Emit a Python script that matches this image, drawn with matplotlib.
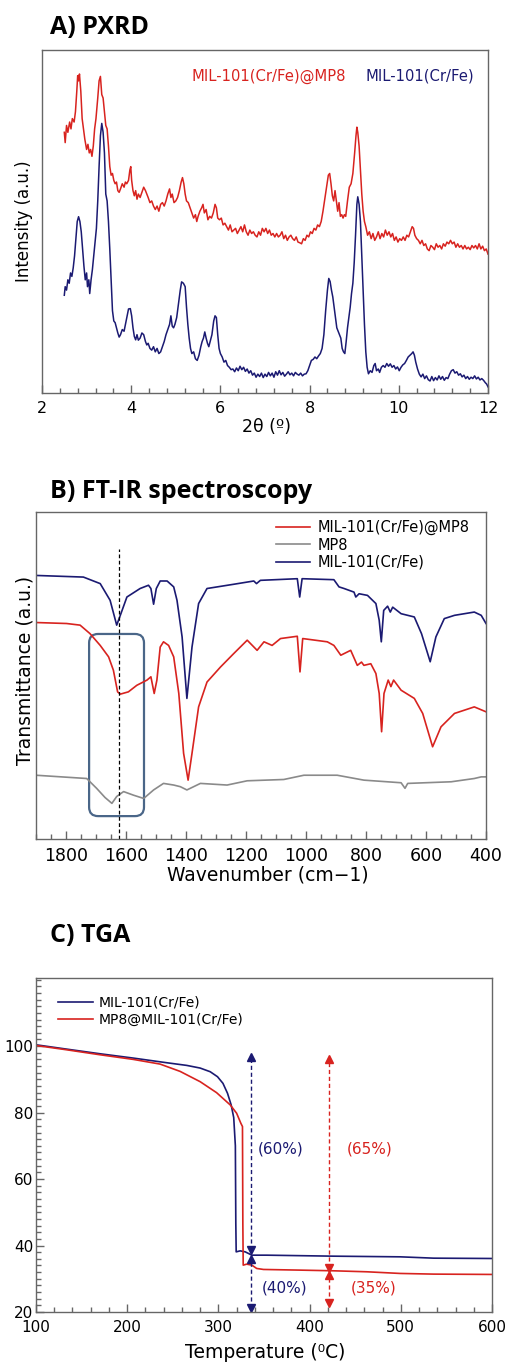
import numpy as np
import matplotlib
matplotlib.use("Agg")
import matplotlib.pyplot as plt
from matplotlib.patches import FancyBboxPatch
from matplotlib.ticker import MultipleLocator

plt.rcParams['font.family'] = ['DejaVu Sans']

RED = '#d8231f'
NAVY = '#1b1a72'
GRAY = '#8a8a8a'
SPINE = '#666666'

# ---------------- A) PXRD (2theta, intensity a.u.) ----------------
pxrd_composite = [
    (2.50, 76), (2.52, 73), (2.55, 78), (2.58, 76), (2.62, 79), (2.65, 77), (2.68, 80), (2.72, 79),
    (2.75, 82), (2.78, 88), (2.80, 92.5), (2.82, 91), (2.84, 93), (2.87, 88), (2.90, 80), (2.93, 77),
    (2.96, 74), (3.00, 71), (3.03, 72.5), (3.06, 70), (3.09, 71), (3.12, 69), (3.15, 72), (3.18, 77),
    (3.21, 80), (3.25, 86), (3.28, 91), (3.31, 92.3), (3.34, 87), (3.37, 86), (3.40, 82), (3.43, 78),
    (3.46, 77), (3.49, 72), (3.52, 66), (3.55, 63.5), (3.58, 64), (3.61, 62), (3.64, 61), (3.67, 61.5),
    (3.70, 59), (3.73, 58.5), (3.76, 59.5), (3.80, 61), (3.84, 60), (3.87, 61.5), (3.90, 61), (3.94, 62),
    (3.97, 65), (3.99, 66), (4.01, 62), (4.04, 59), (4.07, 57.5), (4.10, 59), (4.13, 56.5), (4.16, 58),
    (4.20, 57), (4.24, 58.5), (4.28, 60), (4.32, 59), (4.35, 58), (4.38, 57), (4.42, 55.5), (4.46, 56),
    (4.50, 54.5), (4.54, 53.5), (4.58, 54.5), (4.62, 53), (4.66, 55), (4.70, 55.5), (4.74, 54.5),
    (4.78, 56), (4.82, 58), (4.86, 59.5), (4.89, 57), (4.92, 58), (4.96, 55.5), (5.00, 56), (5.04, 57),
    (5.08, 59), (5.12, 61.5), (5.15, 62.8), (5.18, 61), (5.21, 58), (5.24, 56), (5.28, 55.5), (5.32, 54),
    (5.36, 52.5), (5.40, 51), (5.44, 52), (5.47, 50), (5.50, 51.5), (5.54, 53), (5.58, 54), (5.61, 55),
    (5.64, 52.5), (5.68, 53.5), (5.72, 50.5), (5.76, 51.5), (5.80, 51), (5.84, 52.5), (5.88, 55),
    (5.91, 54), (5.94, 51), (5.98, 50.5), (6.02, 51), (6.06, 49), (6.10, 49.5), (6.14, 48.5), (6.18, 47.5),
    (6.22, 49), (6.26, 47), (6.30, 47.5), (6.34, 48), (6.38, 46.5), (6.42, 47.5), (6.46, 48.5), (6.50, 47),
    (6.54, 49), (6.58, 47), (6.62, 46), (6.66, 47.5), (6.70, 46.5), (6.74, 47), (6.78, 46), (6.82, 45.5),
    (6.86, 47), (6.90, 46), (6.94, 48), (6.98, 47), (7.02, 48), (7.06, 46.5), (7.10, 47.5), (7.14, 46),
    (7.18, 46.5), (7.22, 45.5), (7.26, 46.5), (7.30, 45.5), (7.34, 46), (7.38, 47), (7.42, 45), (7.46, 46),
    (7.50, 44.5), (7.54, 45.5), (7.58, 46), (7.62, 45), (7.66, 44.5), (7.70, 45.5), (7.74, 44), (7.78, 43.8),
    (7.82, 43.5), (7.86, 45), (7.90, 44.5), (7.94, 46), (7.98, 45.5), (8.02, 47), (8.06, 46.5), (8.10, 48),
    (8.14, 47.5), (8.18, 49), (8.22, 48.5), (8.26, 50), (8.30, 53), (8.34, 56.5), (8.38, 60), (8.42, 63.5),
    (8.45, 64), (8.48, 61), (8.51, 57.5), (8.54, 56), (8.57, 59), (8.60, 56), (8.63, 53), (8.66, 55.5),
    (8.69, 51.5), (8.72, 52), (8.75, 51), (8.78, 52), (8.81, 51.5), (8.85, 56), (8.89, 60), (8.93, 61),
    (8.97, 64), (9.01, 70), (9.04, 75), (9.06, 77.5), (9.08, 76), (9.11, 72), (9.14, 65), (9.17, 58),
    (9.20, 53), (9.23, 50), (9.26, 48.5), (9.30, 46), (9.34, 47), (9.38, 45), (9.42, 46.5), (9.46, 44.5),
    (9.50, 45.5), (9.54, 47), (9.58, 45), (9.62, 46.5), (9.66, 45.5), (9.70, 47.5), (9.74, 46), (9.78, 47),
    (9.82, 45.5), (9.86, 46.5), (9.90, 44.5), (9.94, 45.5), (9.98, 44), (10.02, 45), (10.06, 44.5),
    (10.10, 45.5), (10.14, 44.5), (10.18, 46), (10.22, 45.5), (10.26, 47), (10.30, 48.5), (10.33, 48),
    (10.36, 46), (10.40, 45), (10.44, 44.5), (10.48, 43.5), (10.52, 44.5), (10.56, 43), (10.60, 43.5),
    (10.64, 42), (10.68, 41.5), (10.72, 43), (10.76, 42.5), (10.80, 41.8), (10.84, 43.5), (10.88, 42.5),
    (10.92, 43), (10.96, 42), (11.00, 43.5), (11.04, 42.8), (11.08, 44), (11.12, 43.5), (11.16, 44.5),
    (11.20, 43.5), (11.24, 44), (11.28, 42.5), (11.32, 43.5), (11.36, 42.5), (11.40, 43), (11.44, 42),
    (11.48, 43), (11.52, 42), (11.56, 42.5), (11.60, 41.8), (11.64, 43), (11.68, 42.3), (11.72, 43),
    (11.76, 42), (11.80, 43.5), (11.84, 42), (11.88, 42.8), (11.92, 41.5), (11.96, 42), (12.00, 40.5),
]

pxrd_mof = [
    (2.50, 28.5), (2.52, 31), (2.55, 30), (2.58, 33), (2.61, 32), (2.64, 35), (2.67, 34), (2.70, 36.5),
    (2.73, 40), (2.76, 45), (2.79, 50), (2.82, 51.4), (2.85, 50), (2.88, 47), (2.91, 42), (2.94, 37),
    (2.97, 33), (3.00, 35), (3.02, 31), (3.05, 33), (3.07, 29), (3.10, 33), (3.13, 36), (3.16, 40),
    (3.19, 44), (3.22, 48), (3.25, 56), (3.28, 66), (3.31, 75), (3.34, 78.6), (3.37, 76), (3.40, 70),
    (3.43, 58), (3.46, 56), (3.49, 50), (3.52, 42), (3.55, 33), (3.58, 24), (3.61, 21), (3.64, 20.5),
    (3.67, 19), (3.70, 17.5), (3.73, 16.3), (3.76, 17), (3.80, 18.5), (3.84, 18), (3.87, 20), (3.90, 22),
    (3.94, 24.5), (3.98, 24.6), (4.01, 22.5), (4.04, 19), (4.07, 16.5), (4.10, 15.5), (4.13, 17),
    (4.16, 15.4), (4.20, 16), (4.24, 17.5), (4.28, 17), (4.32, 15), (4.35, 14), (4.38, 14.5), (4.42, 13),
    (4.46, 12.5), (4.50, 13.5), (4.54, 12), (4.58, 13), (4.62, 11.5), (4.66, 12), (4.70, 13.5), (4.74, 15),
    (4.78, 17), (4.82, 18.5), (4.86, 20), (4.89, 22.5), (4.92, 19.5), (4.95, 19), (4.98, 20), (5.02, 22),
    (5.06, 26), (5.10, 30), (5.13, 32.4), (5.17, 32), (5.21, 31), (5.24, 25), (5.27, 20), (5.30, 16),
    (5.33, 13), (5.36, 11.5), (5.40, 12), (5.44, 10), (5.48, 9.5), (5.52, 11), (5.56, 13.5), (5.59, 15),
    (5.62, 16), (5.65, 17.8), (5.68, 16), (5.71, 14.5), (5.74, 13.5), (5.77, 15), (5.81, 17), (5.85, 21),
    (5.88, 22.5), (5.91, 22), (5.94, 17), (5.97, 13), (6.00, 11.5), (6.04, 10.5), (6.08, 9), (6.12, 9.5),
    (6.16, 8), (6.20, 7.5), (6.24, 6.8), (6.28, 7), (6.32, 6.2), (6.36, 7.3), (6.40, 6.5), (6.44, 7.8),
    (6.48, 6.8), (6.52, 7.5), (6.56, 6.3), (6.60, 7), (6.64, 5.8), (6.68, 6.5), (6.72, 5.2), (6.76, 5.8),
    (6.80, 4.6), (6.84, 5.5), (6.88, 4.8), (6.92, 5.8), (6.96, 4.5), (7.00, 5.5), (7.04, 4.8), (7.08, 6),
    (7.12, 5), (7.16, 5.8), (7.20, 4.6), (7.24, 6.2), (7.28, 5.2), (7.32, 6.5), (7.36, 5.3), (7.40, 6),
    (7.44, 4.9), (7.48, 5.5), (7.52, 6.2), (7.56, 5.3), (7.60, 5.8), (7.64, 5), (7.68, 6), (7.72, 5.5),
    (7.76, 5.2), (7.80, 5.8), (7.84, 5), (7.88, 5.5), (7.92, 5.6), (7.96, 6.5), (8.00, 8), (8.04, 9.5),
    (8.08, 9.8), (8.12, 10.5), (8.16, 10), (8.20, 10.8), (8.24, 11.5), (8.28, 13), (8.32, 17), (8.36, 24),
    (8.40, 30), (8.43, 33.4), (8.46, 32.5), (8.49, 30), (8.52, 28), (8.55, 25), (8.58, 22), (8.61, 19),
    (8.64, 18), (8.67, 17), (8.70, 16), (8.73, 13), (8.76, 12), (8.79, 11.5), (8.82, 15), (8.85, 19),
    (8.88, 22), (8.91, 25), (8.94, 29), (8.97, 32), (9.00, 38), (9.03, 46), (9.06, 55), (9.08, 57.2),
    (9.11, 55), (9.14, 50), (9.17, 40), (9.20, 30), (9.23, 20), (9.26, 12), (9.29, 7.5), (9.32, 5.6),
    (9.36, 6.5), (9.40, 6), (9.44, 8), (9.47, 8.6), (9.50, 6.5), (9.54, 7), (9.57, 6), (9.61, 7.5),
    (9.65, 8), (9.69, 7.5), (9.73, 8.6), (9.77, 7.8), (9.81, 8.5), (9.85, 7.5), (9.89, 8), (9.93, 7),
    (9.97, 7.6), (10.01, 6.5), (10.05, 7.5), (10.09, 8.2), (10.13, 8.6), (10.17, 9.5), (10.21, 10.5),
    (10.25, 11), (10.29, 11.5), (10.32, 12), (10.35, 11), (10.38, 9), (10.42, 7), (10.46, 5.5), (10.50, 4.7),
    (10.54, 5.5), (10.58, 4.2), (10.62, 5), (10.66, 3.9), (10.70, 3.5), (10.74, 4.8), (10.78, 3.6),
    (10.82, 4.5), (10.86, 3.8), (10.90, 5), (10.94, 4), (10.98, 4.8), (11.02, 3.7), (11.06, 4.5),
    (11.10, 4.2), (11.14, 5.5), (11.18, 6.5), (11.22, 6.8), (11.26, 5.8), (11.30, 6.2), (11.34, 5.2),
    (11.38, 5.6), (11.42, 4.7), (11.46, 5.2), (11.50, 4.2), (11.54, 4.8), (11.58, 4), (11.62, 4.6),
    (11.66, 4.2), (11.70, 5), (11.74, 4.1), (11.78, 4.6), (11.82, 3.8), (11.86, 4.2), (11.90, 3.7),
    (11.94, 3), (11.97, 2.6), (12.00, 1.8),
]

# ---------------- B) FT-IR (wavenumber, transmittance a.u.) ----------------
ir_mof = [
    (1900, 80.6), (1742, 80.1), (1686, 78.1), (1653, 73.0), (1631, 65.4), (1617, 68.9), (1597, 74.0),
    (1553, 76.6), (1525, 77.6), (1517, 76.6), (1508, 71.8), (1499, 76.6), (1486, 78.9), (1463, 78.9),
    (1441, 77.1), (1430, 73.0), (1413, 61.8), (1397, 43.0), (1380, 58.7), (1358, 72.0), (1330, 76.6),
    (1241, 77.9), (1174, 78.9), (1165, 78.1), (1152, 79.1), (1029, 79.6), (1021, 74.0), (1013, 79.6),
    (907, 79.3), (890, 77.1), (873, 76.6), (840, 75.5), (834, 74.0), (823, 75.0), (795, 74.5),
    (767, 72.0), (756, 66.9), (749, 60.3), (741, 69.9), (728, 71.2), (719, 69.4), (711, 70.9),
    (683, 68.9), (639, 67.9), (615, 62.8), (586, 54.2), (567, 61.8), (539, 67.4), (505, 68.4),
    (439, 69.4), (416, 68.4), (400, 65.9),
]

ir_composite = [
    (1900, 66.2), (1798, 65.9), (1753, 65.4), (1720, 62.8), (1686, 59.2), (1658, 55.7), (1642, 51.6),
    (1628, 45.0), (1619, 44.3), (1592, 45.0), (1564, 47.0), (1530, 48.6), (1517, 49.6), (1506, 44.5),
    (1497, 48.6), (1486, 58.7), (1475, 60.3), (1458, 59.2), (1441, 55.7), (1424, 44.5), (1408, 26.2),
    (1393, 18.0), (1380, 26.2), (1358, 40.4), (1330, 48.0), (1285, 52.6), (1241, 56.7), (1196, 60.8),
    (1163, 57.7), (1140, 60.3), (1113, 59.2), (1085, 61.3), (1029, 62.0), (1020, 51.1), (1011, 61.3),
    (929, 60.3), (907, 59.2), (884, 56.2), (851, 57.7), (829, 53.1), (815, 54.1), (807, 53.1),
    (784, 53.6), (767, 50.6), (756, 44.5), (748, 32.8), (740, 44.5), (726, 48.6), (717, 46.6),
    (708, 48.6), (683, 45.5), (639, 43.0), (611, 38.4), (578, 28.2), (550, 34.3), (505, 38.4),
    (439, 40.4), (400, 38.9),
]

ir_mp8 = [
    (1900, 19.5), (1731, 18.5), (1698, 15.5), (1670, 12.7), (1647, 10.9), (1631, 13.0), (1608, 14.5),
    (1575, 13.4), (1541, 12.4), (1508, 15.0), (1475, 17.0), (1441, 16.5), (1419, 16.0), (1397, 15.0),
    (1352, 17.0), (1263, 16.5), (1196, 17.8), (1074, 18.2), (1007, 19.5), (896, 19.5), (807, 18.0),
    (683, 17.2), (670, 15.5), (661, 17.0), (516, 17.5), (439, 18.5), (416, 19.0), (400, 19.0),
]

# ---------------- C) TGA (temperature C, weight %) ----------------
tga_mof = [
    (100, 100.4), (133.6, 99.1), (170.2, 97.7), (206.8, 96.4), (243.4, 95.0), (265.3, 94.2),
    (280, 93.4), (291, 92.3), (299, 90.8), (305, 88.8), (310, 85.8), (314, 82.3), (316.8, 78.5),
    (318.6, 70), (319.1, 46.6), (319.5, 38.1), (323.9, 38.4), (329.4, 38.1), (336.7, 37.1), (353, 37.1),
    (426, 36.8), (499.4, 36.6), (536, 36.2), (600, 36.1),
]

tga_composite = [
    (100, 100.2), (133.6, 98.9), (170.2, 97.4), (206.8, 96.0), (236, 94.6), (258, 92.4), (280, 89.3),
    (298, 86.0), (313, 82.3), (320, 79.8), (324.6, 76.8), (326.4, 75.8), (326.8, 46.6), (327.2, 34.1),
    (331, 34.4), (336.7, 34.1), (342, 33.1), (349.5, 32.8), (389.7, 32.6), (426, 32.4), (462.8, 32.1),
    (499.4, 31.6), (536, 31.4), (600, 31.3),
]

# weight-loss markers: x, (arrow1 bottom, top), (arrow2 bottom, top), label texts
loss_mof = (335.5, (38.6, 96.6), (21.2, 35.9), '(60%)', '(40%)')
loss_composite = (421, (33.2, 96.2), (22.6, 31.0), '(65%)', '(35%)')

W, H = 506, 1364
fig = plt.figure(figsize=(W / 100, H / 100), dpi=100)


def px_axes(left, top, right, bottom):
    return fig.add_axes([left / W, 1 - bottom / H, (right - left) / W, (bottom - top) / H])


def style_spines(ax):
    for s in ax.spines.values():
        s.set_color(SPINE)
        s.set_linewidth(1.0)


title_kw = dict(fontsize=18, fontweight='bold', family=['Open Sans', 'DejaVu Sans'], va='center')

# ---- panel A ----
axA = px_axes(42, 50, 488, 393)
x, y = zip(*pxrd_composite)
axA.plot(x, y, color=RED, lw=1.1)
x, y = zip(*pxrd_mof)
axA.plot(x, y, color=NAVY, lw=1.1)
axA.set_xlim(2, 12)
axA.set_ylim(0, 100)
axA.set_yticks([])
axA.xaxis.set_major_locator(MultipleLocator(2))
axA.xaxis.set_minor_locator(MultipleLocator(0.4))
axA.tick_params(axis='x', which='major', direction='in', length=6, width=1, color=SPINE, labelsize=11.5, pad=6)
axA.tick_params(axis='x', which='minor', direction='in', length=3.5, width=1, color=SPINE)
style_spines(axA)
axA.text(0.336, 0.924, 'MIL-101(Cr/Fe)@MP8', color=RED, fontsize=10.6, transform=axA.transAxes, va='center')
axA.text(0.726, 0.924, 'MIL-101(Cr/Fe)', color=NAVY, fontsize=10.6, transform=axA.transAxes, va='center')
fig.text(50 / W, 1 - 27 / H, 'A) PXRD', **title_kw)
fig.text(24 / W, 1 - 221 / H, 'Intensity (a.u.)', rotation=90, ha='center', va='center', fontsize=12)
fig.text(267 / W, 1 - 427 / H, '2θ (º)', ha='center', va='center', fontsize=12.5)

# ---- panel B ----
axB = px_axes(36, 512, 486, 839)
x, y = zip(*ir_composite)
axB.plot(x, y, color=RED, lw=1.2, label='MIL-101(Cr/Fe)@MP8')
x, y = zip(*ir_mp8)
axB.plot(x, y, color=GRAY, lw=1.2, label='MP8')
x, y = zip(*ir_mof)
axB.plot(x, y, color=NAVY, lw=1.2, label='MIL-101(Cr/Fe)')
axB.set_xlim(1900, 400)
axB.set_ylim(0, 100)
axB.set_yticks([])
axB.xaxis.set_major_locator(MultipleLocator(200))
axB.xaxis.set_minor_locator(MultipleLocator(50))
axB.tick_params(axis='x', which='major', direction='in', length=6, width=1, color=SPINE, labelsize=12.5, pad=6)
axB.tick_params(axis='x', which='minor', direction='in', length=3.5, width=1, color=SPINE)
style_spines(axB)
axB.axvline(1625, ymin=0, ymax=0.887, color='black', lw=0.9, ls=(0, (3, 2)))
box = FancyBboxPatch((0.118, 0.07), 0.122, 0.557, transform=axB.transAxes,
                     boxstyle='round,pad=0,rounding_size=0.02', mutation_aspect=450 / 327,
                     fill=False, edgecolor='#4a6688', lw=1.6)
axB.add_patch(box)
axB.legend(loc='upper left', bbox_to_anchor=(0.534, 0.975), frameon=False, fontsize=10.5,
           handlelength=2.3, handletextpad=0.5, labelspacing=0.15, borderpad=0, borderaxespad=0)
fig.text(50 / W, 1 - 492 / H, 'B) FT-IR spectroscopy', **title_kw)
fig.text(25 / W, 1 - 670 / H, 'Transmittance (a.u.)', rotation=90, ha='center', va='center', fontsize=13.5)
fig.text(268 / W, 1 - 875 / H, 'Wavenumber (cm−1)', ha='center', va='center', fontsize=13.5)

# ---- panel C ----
axC = px_axes(36, 978, 492, 1312)
x, y = zip(*tga_mof)
axC.plot(x, y, color=NAVY, lw=1.2, label='MIL-101(Cr/Fe)')
x, y = zip(*tga_composite)
axC.plot(x, y, color=RED, lw=1.2, label='MP8@MIL-101(Cr/Fe)')
axC.set_xlim(100, 600)
axC.set_ylim(20, 120.5)
axC.xaxis.set_major_locator(MultipleLocator(100))
axC.xaxis.set_minor_locator(MultipleLocator(20))
axC.set_yticks([20, 40, 60, 80, 100])
axC.yaxis.set_minor_locator(MultipleLocator(2))
axC.tick_params(axis='both', which='major', direction='in', length=6, width=1, color=SPINE, labelsize=11)
axC.tick_params(axis='both', which='minor', direction='in', length=3.5, width=1, color=SPINE)
axC.tick_params(axis='x', pad=5.5)
axC.tick_params(axis='y', pad=2)
style_spines(axC)

for (xm, (b1, t1), (b2, t2), lab1, lab2), col, lx in [(loss_mof, NAVY, 343.5), (loss_composite, RED, 441)]:
    axC.plot([xm, xm], [b1, t1], color=col, lw=1, ls=(0, (3, 2)))
    axC.plot([xm, xm], [b2, t2], color=col, lw=1, ls=(0, (3, 2)))
    axC.plot([xm], [t1], marker='^', color=col, ms=5.5, ls='none')
    axC.plot([xm], [b1], marker='v', color=col, ms=5.5, ls='none')
    axC.plot([xm], [t2], marker='^', color=col, ms=5.5, ls='none')
    axC.plot([xm], [b2], marker='v', color=col, ms=5.5, ls='none')
    axC.text(lx, 69, lab1, color=col, fontsize=11, va='center')
    axC.text(lx + 4, 27.2, lab2, color=col, fontsize=11, va='center')

axC.legend(loc='upper left', bbox_to_anchor=(0.048, 0.948), frameon=False, fontsize=10,
           handlelength=2.5, handletextpad=0.4, labelspacing=0.25, borderpad=0, borderaxespad=0)
fig.text(50 / W, 1 - 935 / H, 'C) TGA', **title_kw)
fig.text(265 / W, 1 - 1353 / H, 'Temperature (⁰C)', ha='center', va='center', fontsize=13.5)

plt.savefig('out.png', dpi=100)
